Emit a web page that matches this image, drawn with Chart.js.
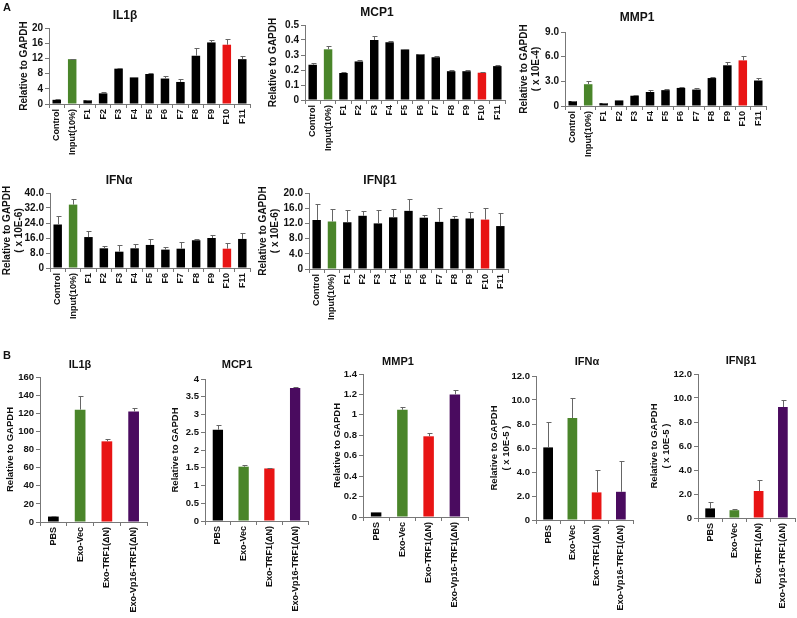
<!DOCTYPE html>
<html>
<head>
<meta charset="utf-8">
<script src="https://cdn.jsdelivr.net/npm/chart.js@4.4.1/dist/chart.umd.min.js"></script>
<style>
	body { margin: 0; background: #fff; width: 797px; height: 618px; position: relative; overflow: hidden; font-family: "Liberation Sans", Arial, sans-serif; }
	canvas { position: absolute; }
	.ttl { position: absolute; font-weight: bold; color: #111; transform: translate(-50%, -50%); white-space: nowrap; }
</style>
</head>
<body>
<script>
// Categories
const fracLabels = ['Control', 'Input(10%)', 'F1', 'F2', 'F3', 'F4', 'F5', 'F6', 'F7', 'F8', 'F9', 'F10', 'F11'];
const treatLabels = ['PBS', 'Exo-Vec', 'Exo-TRF1(\u0394N)', 'Exo-Vp16-TRF1(\u0394N)'];

// Panel A values (mean, upper error)
const il1bFracValues = [1.1, 11.8, 1.0, 2.8, 9.3, 7.0, 7.9, 6.7, 5.8, 12.7, 16.2, 15.6, 11.8];
const il1bFracErrors = [0.2, 0.1, 0.1, 0.3, 0.3, 0.2, 0.3, 0.8, 0.7, 2.1, 0.6, 1.5, 0.8];
const mcp1FracValues = [0.235, 0.338, 0.18, 0.257, 0.40, 0.385, 0.337, 0.305, 0.285, 0.192, 0.192, 0.182, 0.226];
const mcp1FracErrors = [0.012, 0.02, 0.006, 0.007, 0.025, 0.008, 0.003, 0.002, 0.008, 0.006, 0.005, 0.004, 0.006];
const mmp1FracValues = [0.6, 2.65, 0.35, 0.68, 1.25, 1.7, 1.93, 2.2, 2.0, 3.4, 4.95, 5.55, 3.1];
const mmp1FracErrors = [0.05, 0.35, 0.05, 0.05, 0.08, 0.2, 0.1, 0.12, 0.25, 0.15, 0.4, 0.5, 0.25];
const ifnaFracValues = [23.2, 33.8, 16.5, 10.5, 8.7, 10.5, 12.3, 9.8, 10.3, 14.8, 16.0, 10.3, 15.5];
const ifnaFracErrors = [4.4, 3.0, 3.2, 1.2, 3.7, 2.1, 3.2, 1.2, 3.7, 0.7, 1.6, 3.0, 3.2];
const ifnb1FracValues = [12.9, 12.5, 12.3, 14.0, 12.0, 13.6, 15.3, 13.5, 12.4, 13.2, 13.3, 13.0, 11.3];
const ifnb1FracErrors = [4.2, 3.3, 3.2, 1.2, 3.5, 2.2, 3.0, 0.8, 3.6, 0.8, 1.8, 3.0, 3.4];

// Panel B values
const il1bTreatValues = [6, 124, 89, 122];
const il1bTreatErrors = [1, 15.5, 2.8, 3.8];
const mcp1TreatValues = [2.57, 1.53, 1.48, 3.75];
const mcp1TreatErrors = [0.14, 0.06, 0.02, 0.03];
const mmp1TreatValues = [0.045, 1.05, 0.79, 1.2];
const mmp1TreatErrors = [0.005, 0.03, 0.03, 0.04];
const ifnaTreatValues = [6.05, 8.5, 2.3, 2.35];
const ifnaTreatErrors = [2.1, 1.7, 1.9, 2.6];
const ifnb1TreatValues = [0.8, 0.65, 2.25, 9.25];
const ifnb1TreatErrors = [0.55, 0.08, 0.95, 0.55];

// Tick labels
const il1bFracTicks = ['0', '4', '8', '12', '16', '20'];
const mcp1FracTicks = ['0', '0.1', '0.2', '0.3', '0.4', '0.5'];
const mmp1FracTicks = ['0', '3.0', '6.0', '9.0'];
const ifnaFracTicks = ['0', '8.0', '16.0', '24.0', '32.0', '40.0'];
const ifnb1FracTicks = ['0', '4.0', '8.0', '12.0', '16.0', '20.0'];
const il1bTreatTicks = ['0', '20', '40', '60', '80', '100', '120', '140', '160'];
const mcp1TreatTicks = ['0', '0.5', '1', '1.5', '2', '2.5', '3', '3.5', '4'];
const mmp1TreatTicks = ['0', '0.2', '0.4', '0.6', '0.8', '1', '1.2', '1.4'];
const ifnTreatTicks = ['0', '2.0', '4.0', '6.0', '8.0', '10.0', '12.0'];

const GREEN = '#4a852a';
const RED = '#e81414';
const PURPLE = '#4a0b5f';
const fracColors = fracLabels.map((l, i) => (i === 1 ? GREEN : i === 11 ? RED : '#000'));
const treatColors = ['#000', GREEN, RED, PURPLE];

const textColor = '#111';
const axisColor = '#777';
const fontFamily = '"Liberation Sans", Arial, sans-serif';

// upper error bars, drawn through the y scale
const errorBars = {
	id: 'errorBars',
	afterDatasetsDraw(chart) {
		const ds = chart.data.datasets[0];
		const meta = chart.getDatasetMeta(0);
		const yScale = chart.scales.y;
		const ctx = chart.ctx;
		ctx.save();
		ctx.strokeStyle = '#666';
		ctx.lineWidth = 1;
		meta.data.forEach((bar, i) => {
			const err = ds.errors[i];
			if (!err) return;
			const x = Math.round(bar.x) + 0.5;
			const yTop = Math.round(yScale.getPixelForValue(ds.data[i] + err)) + 0.5;
			ctx.beginPath();
			ctx.moveTo(x, bar.y);
			ctx.lineTo(x, yTop);
			ctx.moveTo(x - 2, yTop);
			ctx.lineTo(x + 3, yTop);
			ctx.stroke();
		});
		ctx.restore();
	},
};

function addText(text, x, y, size) {
	const d = document.createElement('div');
	d.className = 'ttl';
	d.textContent = text;
	d.style.left = x + 'px';
	d.style.top = y + 'px';
	d.style.fontSize = size + 'px';
	document.body.appendChild(d);
}

function drawPanel(p) {
	const padTop = 10;
	const padRight = 12;
	const left = p.yTitleX - 6;
	const yw = p.axisX - left;
	const w = p.right - p.axisX + yw + padRight;
	const h = p.bottom - p.top + padTop + p.xh;
	const max = Number(p.ticks[p.ticks.length - 1]);
	const step = max / (p.ticks.length - 1);

	const canvas = document.createElement('canvas');
	canvas.width = w;
	canvas.height = h;
	canvas.style.left = left + 'px';
	canvas.style.top = p.top - padTop + 'px';
	canvas.style.width = w + 'px';
	canvas.style.height = h + 'px';
	document.body.appendChild(canvas);

	new Chart(canvas, {
		type: 'bar',
		data: {
			labels: p.labels,
			datasets: [
				{
					data: p.values,
					errors: p.errors,
					backgroundColor: p.colors,
					borderWidth: 0,
					barPercentage: p.barPct,
					categoryPercentage: 1,
				},
			],
		},
		options: {
			responsive: false,
			animation: false,
			devicePixelRatio: 1,
			layout: { padding: { top: padTop, right: padRight, left: 0, bottom: 0 } },
			plugins: { legend: { display: false }, tooltip: { enabled: false } },
			scales: {
				x: {
					offset: true,
					grid: { offset: true, drawOnChartArea: false, tickLength: 4, color: axisColor },
					border: { color: axisColor },
					ticks: {
						minRotation: 90,
						maxRotation: 90,
						autoSkip: false,
						padding: 1,
						color: textColor,
						font: { family: fontFamily, size: 9, weight: 'bold' },
					},
					afterFit: (s) => {
						s.height = p.xh;
					},
				},
				y: {
					min: 0,
					max: max,
					grid: { drawOnChartArea: false, tickLength: 4, color: axisColor },
					border: { color: axisColor },
					ticks: {
						stepSize: step,
						padding: 2,
						color: textColor,
						font: { family: fontFamily, size: p.tickSize, weight: 'bold' },
						callback: (v) => p.ticks[Math.round(v / step)],
					},
					title: {
						display: true,
						text: p.yTitle,
						padding: 0,
						color: textColor,
						font: { family: fontFamily, size: p.yTitleSize, weight: 'bold' },
					},
					afterFit: (s) => {
						s.width = yw;
					},
				},
			},
		},
		plugins: [errorBars],
	});

	addText(p.title, p.titleX, p.titleY, p.titleSize);
}

const panels = [
	{ title: 'IL1\u03b2', labels: fracLabels, values: il1bFracValues, errors: il1bFracErrors, ticks: il1bFracTicks, colors: fracColors,
		yTitle: 'Relative to GAPDH', axisX: 49, top: 28, bottom: 104, right: 250, yTitleX: 24, xh: 58, titleX: 125, titleY: 15 },
	{ title: 'MCP1', labels: fracLabels, values: mcp1FracValues, errors: mcp1FracErrors, ticks: mcp1FracTicks, colors: fracColors,
		yTitle: 'Relative to GAPDH', axisX: 305, top: 25, bottom: 100, right: 505, yTitleX: 273, xh: 58, titleX: 377, titleY: 12 },
	{ title: 'MMP1', labels: fracLabels, values: mmp1FracValues, errors: mmp1FracErrors, ticks: mmp1FracTicks, colors: fracColors,
		yTitle: ['Relative to GAPDH', '( x 10E-4)'], axisX: 565, top: 32, bottom: 106, right: 766, yTitleX: 524, xh: 58, titleX: 637, titleY: 17 },
	{ title: 'IFN\u03b1', labels: fracLabels, values: ifnaFracValues, errors: ifnaFracErrors, ticks: ifnaFracTicks, colors: fracColors,
		yTitle: ['Relative to GAPDH', '( x 10E-6)'], axisX: 50, top: 193, bottom: 268, right: 250, yTitleX: 7, xh: 58, titleX: 119, titleY: 180 },
	{ title: 'IFN\u03b21', labels: fracLabels, values: ifnb1FracValues, errors: ifnb1FracErrors, ticks: ifnb1FracTicks, colors: fracColors,
		yTitle: ['Relative to GAPDH', '( x 10E-6)'], axisX: 309, top: 193, bottom: 269, right: 508, yTitleX: 263, xh: 58, titleX: 380, titleY: 180 },
	{ title: 'IL1\u03b2', labels: treatLabels, values: il1bTreatValues, errors: il1bTreatErrors, ticks: il1bTreatTicks, colors: treatColors,
		yTitle: 'Relative to GAPDH', axisX: 40, top: 377, bottom: 522, right: 147, yTitleX: 11, xh: 98, titleX: 80, titleY: 364 },
	{ title: 'MCP1', labels: treatLabels, values: mcp1TreatValues, errors: mcp1TreatErrors, ticks: mcp1TreatTicks, colors: treatColors,
		yTitle: 'Relative to GAPDH', axisX: 205, top: 379, bottom: 521, right: 308, yTitleX: 176, xh: 98, titleX: 237, titleY: 364 },
	{ title: 'MMP1', labels: treatLabels, values: mmp1TreatValues, errors: mmp1TreatErrors, ticks: mmp1TreatTicks, colors: treatColors,
		yTitle: 'Relative to GAPDH', axisX: 363, top: 374, bottom: 517, right: 468, yTitleX: 338, xh: 98, titleX: 398, titleY: 361 },
	{ title: 'IFN\u03b1', labels: treatLabels, values: ifnaTreatValues, errors: ifnaTreatErrors, ticks: ifnTreatTicks, colors: treatColors,
		yTitle: ['Relative to GAPDH', '( x 10E-5 )'], axisX: 536, top: 376, bottom: 520, right: 633, yTitleX: 495, xh: 98, titleX: 587, titleY: 361 },
	{ title: 'IFN\u03b21', labels: treatLabels, values: ifnb1TreatValues, errors: ifnb1TreatErrors, ticks: ifnTreatTicks, colors: treatColors,
		yTitle: ['Relative to GAPDH', '( x 10E-5 )'], axisX: 698, top: 374, bottom: 518, right: 795, yTitleX: 655, xh: 98, titleX: 741, titleY: 360 },
];

panels.forEach((p, i) => {
	const partB = i >= 5;
	p.barPct = partB ? 0.4 : 0.55;
	p.tickSize = partB ? 9.5 : 10;
	p.yTitleSize = partB ? 9.5 : 10;
	p.titleSize = partB ? 11 : 12;
	drawPanel(p);
});

addText('A', 7, 7, 11);
addText('B', 7, 355, 11);
</script>
</body>
</html>
